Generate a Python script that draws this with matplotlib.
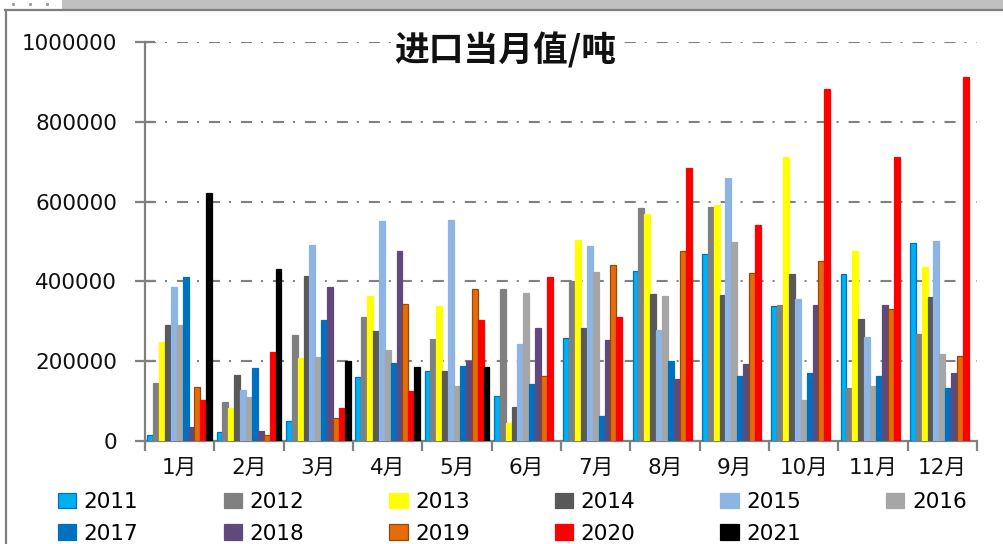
import numpy as np
import matplotlib
matplotlib.use('Agg')
import matplotlib.pyplot as plt
from matplotlib.patches import Rectangle
from matplotlib.lines import Line2D

plt.rcParams['font.family'] = ['DejaVu Sans', 'Noto Sans CJK SC']

months = ['1月', '2月', '3月', '4月', '5月', '6月', '7月', '8月', '9月', '10月', '11月', '12月']
years = ['2011', '2012', '2013', '2014', '2015', '2016', '2017', '2018', '2019', '2020', '2021']

v2011 = [15000, 22000, 50000, 160000, 175000, 112000, 258000, 426000, 469000, 338000, 419000, 496000]
v2012 = [145000, 97000, 265000, 312000, 256000, 381000, 400000, 585000, 586000, 340000, 132000, 269000]
v2013 = [247000, 82000, 208000, 364000, 339000, 44000, 504000, 569000, 592000, 711000, 475000, 437000]
v2014 = [291000, 166000, 414000, 276000, 175000, 85000, 283000, 369000, 365000, 418000, 305000, 362000]
v2015 = [387000, 127000, 491000, 551000, 554000, 244000, 489000, 279000, 658000, 357000, 261000, 502000]
v2016 = [291000, 110000, 210000, 229000, 139000, 372000, 423000, 364000, 498000, 104000, 138000, 217000]
v2017 = [410000, 184000, 304000, 195000, 189000, 143000, 62000, 200000, 162000, 171000, 162000, 134000]
v2018 = [34000, 25000, 385000, 475000, 201000, 282000, 252000, 155000, 192000, 340000, 340000, 171000]
v2019 = [135000, 16000, 58000, 344000, 380000, 162000, 441000, 475000, 421000, 451000, 332000, 212000]
v2020 = [104000, 223000, 82000, 125000, 304000, 410000, 312000, 683000, 542000, 882000, 711000, 912000]
v2021 = [622000, 431000, 201000, 185000, 185000]

series = [v2011, v2012, v2013, v2014, v2015, v2016, v2017, v2018, v2019, v2020, v2021]
colors = ['#00B0F0', '#808080', '#FFFF00', '#595959', '#8EB4E3', '#A6A6A6',
          '#0070C0', '#604A7B', '#E46C0A', '#FF0000', '#000000']
edges = ['#0070C0', '#808080', '#FFFF00', '#595959', '#8EB4E3', '#A6A6A6',
         '#0070C0', '#604A7B', '#984807', '#FF0000', '#000000']

W, H = 1004, 544
fig = plt.figure(figsize=(W / 100, H / 100), dpi=100)
ax = fig.add_axes([145 / W, 1 - 441 / H, (977 - 145) / W, (441 - 42) / H])

# window frame bits
fig.add_artist(Rectangle((62 / W, 1 - 9 / H), (W - 62) / W, 9 / H,
                         transform=fig.transFigure, color='#C0C0C0', lw=0))
fig.add_artist(Line2D([5 / W, 1], [1 - 10 / H, 1 - 10 / H], transform=fig.transFigure,
                      color='#7F7F7F', lw=1.6))
fig.add_artist(Line2D([6 / W, 6 / W], [0, 1 - 10 / H], transform=fig.transFigure,
                      color='#7F7F7F', lw=1.6))
fig.add_artist(Line2D([13 / W, 30 / W, 47 / W], [1 - 4 / H] * 3, transform=fig.transFigure,
                      color='#A0A0A0', lw=0, marker='s', markersize=1.2))

n = len(years)
w = 0.085
x = np.arange(len(months))
handles = []
for j, (vals, c, e) in enumerate(zip(series, colors, edges)):
    off = (j - (n - 1) / 2) * w
    b = ax.bar(x[:len(vals)] + off, vals, width=w, color=c, edgecolor=e,
               linewidth=0.9, label=years[j], zorder=3)
    handles.append(b)

ax.set_xlim(-0.5, 11.5)
ax.set_ylim(0, 1000000)
ax.set_yticks(np.arange(0, 1000001, 200000))
ax.set_yticklabels([str(v) for v in range(0, 1000001, 200000)])
ax.set_xticks(x)
ax.set_xticklabels(months)
ax.set_xticks(np.arange(-0.5, 12, 1), minor=True)

ax.tick_params(axis='x', which='major', length=0, pad=12, labelsize=15.5, colors='#111111')
ax.tick_params(axis='x', which='minor', direction='out', length=7, width=1.6, color='#808080')
ax.tick_params(axis='y', direction='inout', length=14, width=1.6, color='#808080',
               pad=13, labelsize=15.5, labelcolor='#111111')

for s in ['top', 'right']:
    ax.spines[s].set_visible(False)
for s in ['left', 'bottom']:
    ax.spines[s].set_color('#808080')
    ax.spines[s].set_linewidth(1.6)

ax.set_axisbelow(True)
ax.grid(axis='y', color='#808080', linewidth=1.5, linestyle=(0, (5.3, 4.3, 0.95, 4.8)))

ax.text(0.433, 0.978, '进口当月值/吨', transform=ax.transAxes, ha='center', va='center',
        fontsize=25, fontweight='semibold', family=['Noto Sans CJK SC'], color='#111111',
        bbox=dict(facecolor='white', edgecolor='none', pad=1), zorder=5)

# legend fills column by column, so interleave to get two rows
order = [0, 6, 1, 7, 2, 8, 3, 9, 4, 10, 5]
fig.legend([handles[i] for i in order], [years[i] for i in order], ncol=6,
           loc='upper left', bbox_to_anchor=(58 / W, 1 - 492 / H), frameon=False,
           fontsize=15.5, handlelength=0.85, handleheight=0.75, handletextpad=0.35,
           columnspacing=3.95, labelspacing=0.55, borderpad=0, borderaxespad=0)

fig.savefig('out.png', dpi=100)
